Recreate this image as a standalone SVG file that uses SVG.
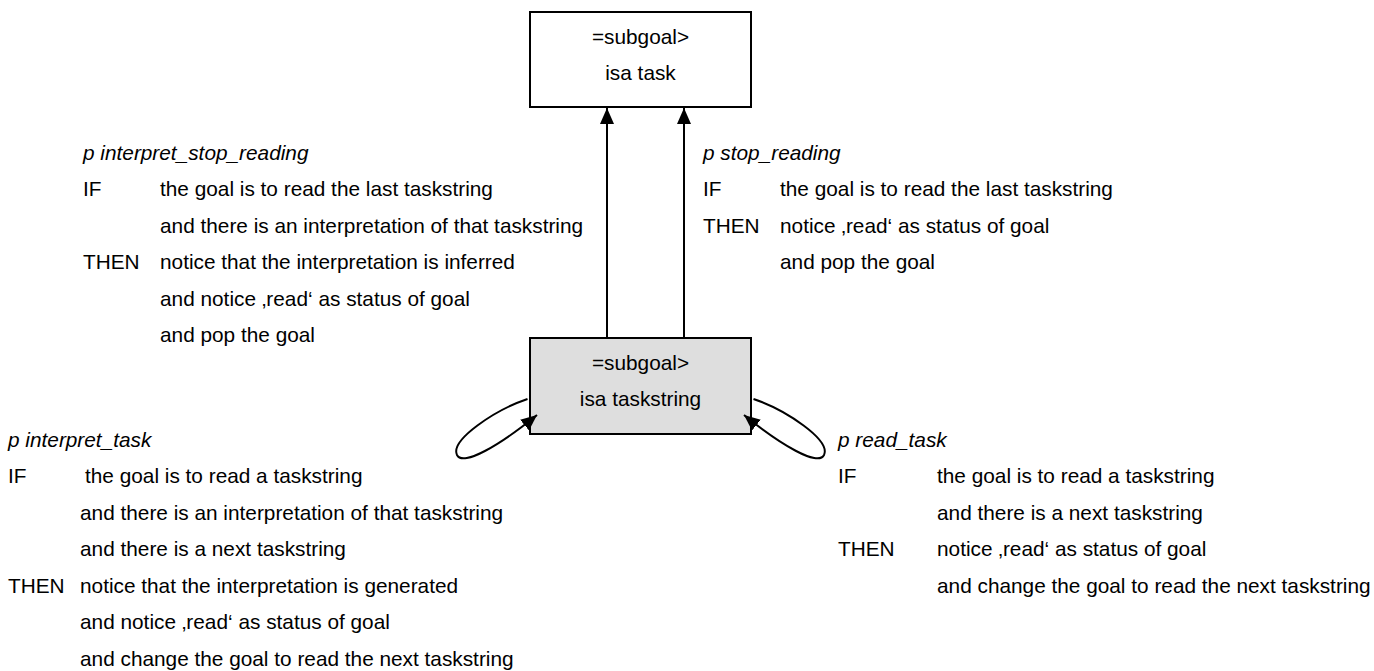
<svg xmlns="http://www.w3.org/2000/svg" width="1374" height="671" viewBox="0 0 1374 671">
  <style>
    text { font-family: "Liberation Sans", Arial, Helvetica, sans-serif; font-size: 20.8px; fill: #000; }
    .name { font-style: italic; }
    .mid { text-anchor: middle; }
    .box { stroke: #000; stroke-width: 2; }
    .edge { fill: none; stroke: #000; stroke-width: 2; }
  </style>
  <defs>
    <marker id="head" markerUnits="userSpaceOnUse" markerWidth="16" markerHeight="14" refX="16" refY="7" orient="auto">
      <path d="M0,0 L16,7 L0,14 z" fill="#000"/>
    </marker>
  </defs>

  <rect width="1374" height="671" fill="#fff"/>

  <!-- goal chunk: task -->
  <g id="node-task">
    <rect class="box" x="530" y="12" width="221" height="95" fill="#fff"/>
    <text class="mid" x="640.5" y="43.5">=subgoal&gt;</text>
    <text class="mid" x="640.5" y="80">isa task</text>
  </g>

  <!-- goal chunk: taskstring -->
  <g id="node-taskstring">
    <rect class="box" x="530" y="338" width="221" height="96" fill="#dedede"/>
    <text class="mid" x="640.5" y="369.5">=subgoal&gt;</text>
    <text class="mid" x="640.5" y="406">isa taskstring</text>
  </g>

  <!-- transitions between goal states -->
  <g id="connectors">
    <line class="edge" x1="607" y1="338" x2="607" y2="108" marker-end="url(#head)"/>
    <line class="edge" x1="684" y1="338" x2="684" y2="108" marker-end="url(#head)"/>
    <path class="edge" d="M527.5,399 C495,410 450,440 457,455 C463,467 500,445 537,415" marker-end="url(#head)"/>
    <path class="edge" d="M753.5,399 C786,410 831,440 824,455 C818,467 781,445 744,415" marker-end="url(#head)"/>
  </g>

  <!-- production: interpret_stop_reading -->
  <g id="rule-interpret-stop-reading">
    <text class="name" x="83" y="159.5">p interpret_stop_reading</text>
    <text x="83" y="196">IF</text>
    <text x="160" y="196">the goal is to read the last taskstring</text>
    <text x="160" y="232.5">and there is an interpretation of that taskstring</text>
    <text x="83" y="269">THEN</text>
    <text x="160" y="269">notice that the interpretation is inferred</text>
    <text x="160" y="305.5">and notice ‚read‘ as status of goal</text>
    <text x="160" y="342">and pop the goal</text>
  </g>

  <!-- production: stop_reading -->
  <g id="rule-stop-reading">
    <text class="name" x="703" y="159.5">p stop_reading</text>
    <text x="703" y="196">IF</text>
    <text x="780" y="196">the goal is to read the last taskstring</text>
    <text x="703" y="232.5">THEN</text>
    <text x="780" y="232.5">notice ‚read‘ as status of goal</text>
    <text x="780" y="269">and pop the goal</text>
  </g>

  <!-- production: interpret_task -->
  <g id="rule-interpret-task">
    <text class="name" x="8" y="446.5">p interpret_task</text>
    <text x="8" y="483">IF</text>
    <text x="85" y="483">the goal is to read a taskstring</text>
    <text x="80" y="519.5">and there is an interpretation of that taskstring</text>
    <text x="80" y="556">and there is a next taskstring</text>
    <text x="8" y="592.5">THEN</text>
    <text x="80" y="592.5">notice that the interpretation is generated</text>
    <text x="80" y="629">and notice ‚read‘ as status of goal</text>
    <text x="80" y="665.5">and change the goal to read the next taskstring</text>
  </g>

  <!-- production: read_task -->
  <g id="rule-read-task">
    <text class="name" x="838" y="446.5">p read_task</text>
    <text x="838" y="483">IF</text>
    <text x="937" y="483">the goal is to read a taskstring</text>
    <text x="937" y="519.5">and there is a next taskstring</text>
    <text x="838" y="556">THEN</text>
    <text x="937" y="556">notice ‚read‘ as status of goal</text>
    <text x="937" y="592.5">and change the goal to read the next taskstring</text>
  </g>
</svg>
